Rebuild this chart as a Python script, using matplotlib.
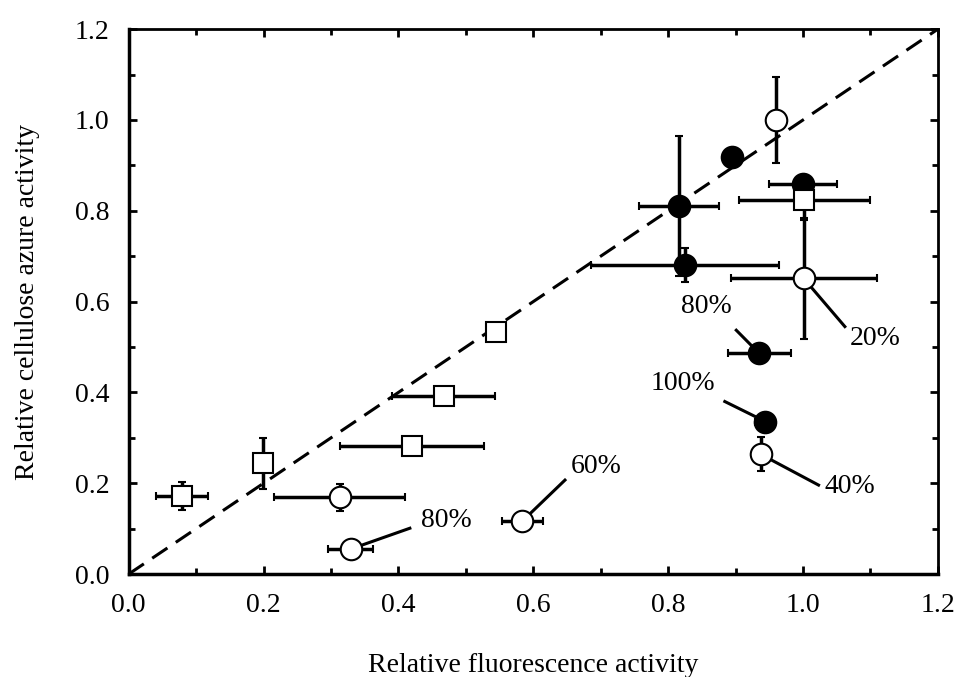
import matplotlib
matplotlib.use("Agg")
import matplotlib.pyplot as plt
import numpy as np

plt.rcParams['font.family'] = ['Liberation Serif', 'DejaVu Serif']

# Filled circles
fc_x = [0.894, 0.816, 0.825, 1.000, 0.935, 0.944]
fc_y = [0.919, 0.811, 0.681, 0.860, 0.486, 0.336]
fc_xerr = [0.0, 0.059, 0.139, 0.050, 0.047, 0.015]
fc_yerr = [0.0, 0.154, 0.037, 0.0, 0.0, 0.0]

# Open circles
oc_x = [0.960, 1.001, 0.937, 0.313, 0.584, 0.329]
oc_y = [1.000, 0.651, 0.264, 0.169, 0.117, 0.055]
oc_xerr = [0.0, 0.108, 0.0, 0.097, 0.030, 0.033]
oc_yerr = [0.094, 0.134, 0.037, 0.030, 0.0, 0.0]

# Open squares
sq_x = [1.002, 0.544, 0.467, 0.420, 0.199, 0.079]
sq_y = [0.824, 0.532, 0.393, 0.283, 0.244, 0.172]
sq_xerr = [0.097, 0.0, 0.076, 0.107, 0.0, 0.038]
sq_yerr = [0.045, 0.0, 0.0, 0.0, 0.056, 0.030]

# Annotations: label, text position, line start, line end
ann_text = ['80%', '20%', '100%', '40%', '60%', '80%']
ann_xy_text = [(0.857, 0.589), (1.107, 0.519), (0.822, 0.420), (1.070, 0.192), (0.694, 0.238), (0.471, 0.119)]
ann_line_from = [(0.901, 0.537), (1.062, 0.545), (0.884, 0.380), (1.023, 0.196), (0.647, 0.207), (0.417, 0.101)]
ann_line_to = [(0.935, 0.486), (1.001, 0.651), (0.944, 0.336), (0.937, 0.264), (0.584, 0.117), (0.329, 0.055)]

diag = [0.0, 1.2]

fig = plt.figure(figsize=(9.6, 6.77), dpi=100)
ax = fig.add_axes([0.134, 0.152, 0.843, 0.805])

ax.plot(diag, diag, color='black', lw=2.2, dashes=(6, 3.3), zorder=1)

for xs, ys in zip(ann_line_from, ann_line_to):
    ax.plot([xs[0], ys[0]], [xs[1], ys[1]], color='black', lw=2.2, zorder=2)
for t, p in zip(ann_text, ann_xy_text):
    ax.text(p[0], p[1], t, fontsize=20, ha='center', va='center')

ekw = dict(ecolor='black', elinewidth=2.5, capsize=3, capthick=3, ls='none', ms=15.5, mec='black', mew=1.5)

ax.errorbar(fc_x, fc_y, xerr=fc_xerr, yerr=fc_yerr, fmt='o', mfc='black', zorder=3, **ekw)
ax.errorbar(oc_x, oc_y, xerr=oc_xerr, yerr=oc_yerr, fmt='o', mfc='white', zorder=4, **ekw)
ax.errorbar(sq_x, sq_y, xerr=sq_xerr, yerr=sq_yerr, fmt='s', mfc='white', zorder=5,
            **{**ekw, 'ms': 15})

ax.set_xlim(0, 1.2)
ax.set_ylim(0, 1.2)
ticks = np.arange(0, 1.21, 0.2)
ax.set_xticks(ticks)
ax.set_yticks(ticks)
ax.set_xticks(np.arange(0, 1.21, 0.1), minor=True)
ax.set_yticks(np.arange(0, 1.21, 0.1), minor=True)
ax.set_xticklabels([f'{v:.1f}' for v in ticks])
ax.set_yticklabels([f'{v:.1f}' for v in ticks])
ax.tick_params(which='both', direction='in', top=True, right=True, labelsize=20, width=2)
ax.tick_params(which='major', length=6)
ax.tick_params(axis='x', which='major', pad=13.5)
ax.tick_params(axis='y', which='major', pad=14)
ax.tick_params(which='minor', length=4)
for s in ax.spines.values():
    s.set_linewidth(2)
ax.spines['left'].set_linewidth(2.5)
ax.spines['bottom'].set_linewidth(2.5)

ax.set_xlabel('Relative fluorescence activity', fontsize=20, labelpad=25)
ax.set_ylabel('Relative cellulose azure activity', fontsize=20, labelpad=25)

fig.savefig('out.png', dpi=100)
